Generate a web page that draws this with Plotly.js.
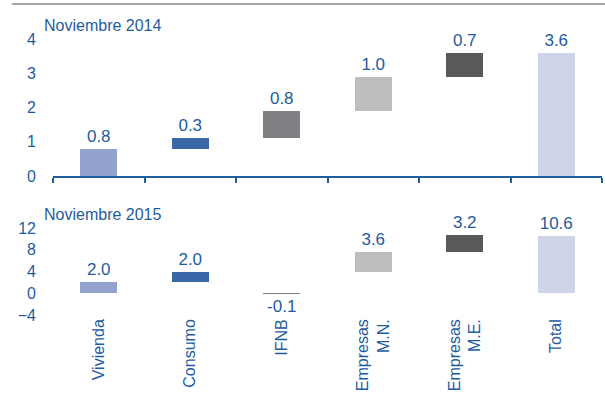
<!DOCTYPE html>
<html>
<head>
<meta charset="utf-8">
<script src="https://cdn.plot.ly/plotly-3.0.1.min.js"></script>
<style>html,body{margin:0;padding:0;background:#fff;}#chart{width:605px;height:403px;}</style>
</head>
<body>
<div id="chart"></div>
<script>
var categories = ["Vivienda", "Consumo", "IFNB", "Empresas<br>M.N.", "Empresas<br>M.E.", "Total"];
var values2014 = [0.8, 0.3, 0.8, 1.0, 0.7, 3.6];
var base2014   = [0, 0.8, 1.1, 1.9, 2.9, 0];
var values2015 = [2.0, 2.0, -0.1, 3.6, 3.2, 10.6];
var base2015   = [0, 2.0, 0, 3.9, 7.5, 0];
var barColors  = ["#93A3CD", "#3A67A8", "#808184", "#BDBEC0", "#58595B", "#CFD5E8"];
var panelTitles = ["Noviembre 2014", "Noviembre 2015"];

var txtColor = "#1F5C9E";
var font = "Liberation Sans, Arial, sans-serif";

function fmt(v){ return v.toFixed(1); }

var traces = [
  {type:"bar", x:categories, y:values2014, base:base2014, xaxis:"x", yaxis:"y",
   marker:{color:barColors}, width:0.4, text:values2014.map(fmt), textposition:"outside",
   textfont:{size:17, color:txtColor, family:font}, cliponaxis:false, constraintext:"none", hoverinfo:"none"},
  {type:"bar", x:categories, y:values2015, base:base2015, xaxis:"x2", yaxis:"y2",
   marker:{color:barColors}, width:0.4, text:values2015.map(fmt), textposition:"outside",
   textfont:{size:17, color:txtColor, family:font}, cliponaxis:false, constraintext:"none", hoverinfo:"none"}
];

var axCommon = {showgrid:false, zeroline:false, fixedrange:true};
var layout = {
  width:605, height:403, showlegend:false, bargap:0,
  paper_bgcolor:"#fff", plot_bgcolor:"rgba(0,0,0,0)",
  margin:{l:53, r:3, t:39, b:88},
  font:{family:font, color:txtColor, size:16},
  xaxis:Object.assign({}, axCommon, {anchor:"y", type:"category", showline:true, linecolor:txtColor, linewidth:2,
    ticks:"outside", tickson:"boundaries", ticklen:5, tickwidth:2, tickcolor:txtColor, showticklabels:false}),
  yaxis:Object.assign({}, axCommon, {domain:[0.5036,1], range:[0,4], dtick:1, tick0:0, tickmode:"linear",
    showline:false, ticks:"", ticklabelstandoff:16, tickfont:{size:16, color:txtColor}}),
  xaxis2:Object.assign({}, axCommon, {anchor:"y2", type:"category", showline:false, ticks:"",
    tickangle:-90, tickfont:{size:16, color:txtColor}}),
  yaxis2:Object.assign({}, axCommon, {domain:[0,0.3152], range:[-4,12], dtick:4, tick0:0, tickmode:"linear",
    showline:false, ticks:"", ticklabelstandoff:16, tickfont:{size:16, color:txtColor}}),
  xaxis3:Object.assign({}, axCommon, {overlaying:"x2", anchor:"free", position:0.0788, type:"linear",
    range:[-0.5, categories.length-0.5], tickmode:"linear", tick0:-0.5, dtick:1,
    showline:true, linecolor:txtColor, linewidth:2, ticks:"outside", ticklen:5, tickwidth:2, tickcolor:txtColor,
    showticklabels:false}),
  annotations:[
    {text:panelTitles[0], xref:"paper", yref:"paper", x:-0.02, y:1.05, xanchor:"left", yanchor:"middle",
     showarrow:false, font:{size:16, color:txtColor}},
    {text:panelTitles[1], xref:"paper", yref:"paper", x:-0.02, y:0.365, xanchor:"left", yanchor:"middle",
     showarrow:false, font:{size:16, color:txtColor}}
  ],
  shapes:[
    {type:"line", xref:"paper", yref:"paper", x0:-0.075, x1:1.01, y0:1.127, y1:1.127,
     line:{color:"#A6A6A6", width:2}}
  ]
};

Plotly.newPlot("chart", traces, layout, {staticPlot:true, displayModeBar:false});
</script>
</body>
</html>
